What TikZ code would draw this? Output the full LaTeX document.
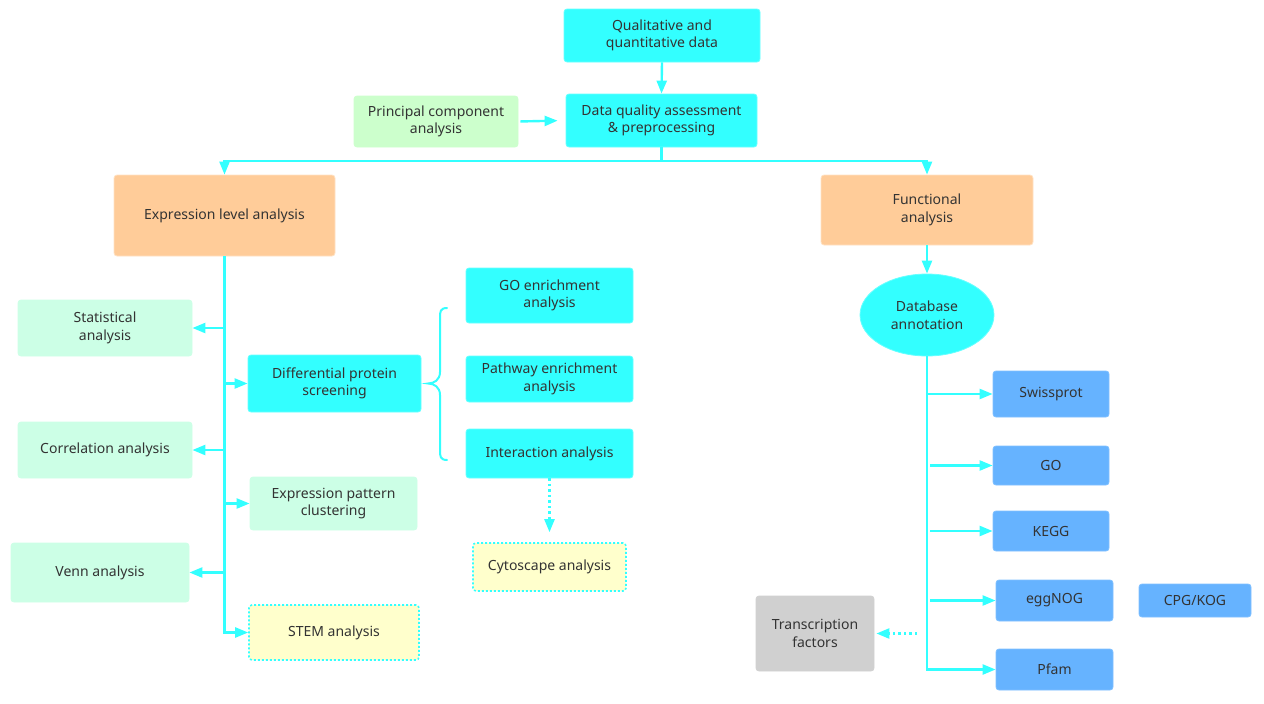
\documentclass[tikz,border=0pt]{standalone}
\usepackage{fontspec}
\setmainfont{Noto Sans}
\usetikzlibrary{arrows.meta,shapes.geometric}
\definecolor{cyanF}{HTML}{33FFFF}
\definecolor{cyanL}{HTML}{66FFFF}
\definecolor{lineC}{HTML}{33FFFF}
\definecolor{mintF}{HTML}{CCFFE6}
\definecolor{pcaF}{HTML}{CCFFCC}
\definecolor{orgF}{HTML}{FFCC99}
\definecolor{orgL}{HTML}{FFE2C4}
\definecolor{yelF}{HTML}{FFFFCC}
\definecolor{bluF}{HTML}{66B3FF}
\definecolor{bluL}{HTML}{80C0FF}
\definecolor{gryF}{HTML}{D0D0D0}
\definecolor{txt}{HTML}{333333}
\begin{document}
\begin{tikzpicture}[x=1pt,y=-1pt,
  font=\fontsize{14}{17.5}\selectfont, text=txt,
  box/.style={rounded corners=3pt, align=center, inner sep=0pt, line width=0.8pt},
  cybox/.style={box, fill=cyanF, draw=cyanL},
  mintbox/.style={box, fill=mintF, draw=mintF},
  pcabox/.style={box, fill=pcaF, draw=pcaF},
  orgbox/.style={box, fill=orgF, draw=orgL},
  yelbox/.style={box, fill=yelF, draw=lineC, dash pattern=on 2pt off 2pt, line width=1.6pt},
  blubox/.style={box, fill=bluF, draw=bluL},
  grybox/.style={box, fill=gryF, draw=gryF},
  conn/.style={draw=lineC, line width=2.4pt},
  arr/.style={conn, -{Triangle[length=13pt,width=10pt]}},
  darr/.style={arr, dash pattern=on 2.5pt off 3pt}]
\useasboundingbox (0,0) rectangle (1264,704);

% top
\node[cybox, minimum width=196pt, minimum height=53pt] (qual) at (662,35.5) {Qualitative and\\quantitative data};
\node[cybox, minimum width=191pt, minimum height=53pt] (dqa) at (661.5,120.5) {Data quality assessment\\\& preprocessing};
\node[pcabox, minimum width=164pt, minimum height=51pt] (pca) at (436,121.5) {Principal component\\analysis};

% level 2
\node[orgbox, minimum width=221pt, minimum height=81pt] (expr) at (224.5,215.5) {Expression level analysis};
\node[orgbox, minimum width=212pt, minimum height=70pt] (func) at (927,210) {Functional\\analysis};

% expression branch
\node[mintbox, minimum width=174pt, minimum height=56pt] (stat) at (105,328) {Statistical\\analysis};
\node[cybox, minimum width=173pt, minimum height=57pt] (diff) at (334.5,383.5) {Differential protein\\screening};
\node[mintbox, minimum width=174pt, minimum height=56pt] (corr) at (105,450) {Correlation analysis};
\node[mintbox, minimum width=167pt, minimum height=53pt] (clus) at (333.5,503.5) {Expression pattern\\clustering};
\node[mintbox, minimum width=178pt, minimum height=59pt] (venn) at (100,572.5) {Venn analysis};
\node[yelbox, minimum width=170pt, minimum height=55pt] (stem) at (334,632.5) {STEM analysis};

\node[cybox, minimum width=167pt, minimum height=55pt] (goe) at (549.5,295.5) {GO enrichment\\analysis};
\node[cybox, minimum width=167pt, minimum height=46pt] (path) at (549.5,379) {Pathway enrichment\\analysis};
\node[cybox, minimum width=167pt, minimum height=49pt] (inter) at (549.5,453.5) {Interaction analysis};
\node[yelbox, minimum width=153pt, minimum height=48pt] (cyto) at (549.5,567) {Cytoscape analysis};

% functional branch
\node[ellipse, fill=cyanF, draw=cyanL, line width=0.8pt, inner sep=0pt, minimum width=134pt, minimum height=82pt, align=center] (db) at (927,315) {Database\\annotation};
\node[blubox, minimum width=116pt, minimum height=46pt] (swiss) at (1051,394) {Swissprot};
\node[blubox, minimum width=116pt, minimum height=39pt] (gob) at (1051,465.5) {GO};
\node[blubox, minimum width=116pt, minimum height=40pt] (kegg) at (1051,531) {KEGG};
\node[blubox, minimum width=117pt, minimum height=41pt] (egg) at (1054.5,600.5) {eggNOG};
\node[blubox, minimum width=112pt, minimum height=33pt] (cpg) at (1195,600.5) {CPG/KOG};
\node[blubox, minimum width=117pt, minimum height=41pt] (pfam) at (1054.5,669.5) {Pfam};
\node[grybox, minimum width=118pt, minimum height=75pt] (tf) at (815,633.5) {Transcription\\factors};

% connectors top
\draw[arr] (qual.south) -- (dqa.north);
\draw[arr, shorten >=8pt, shorten <=2pt] (pca.east) -- (dqa.west);
\coordinate (split) at (661.5,161);
\draw[conn] (dqa.south) -- (split);
\draw[arr] (split) -| (expr.north);
\draw[arr] (split) -| (func.north);

% expression trunk
\draw[arr] (expr.south) |- (stem.west);
\draw[arr] (expr.south |- stat.east) -- (stat.east);
\draw[arr] (expr.south |- corr.east) -- (corr.east);
\draw[arr] (expr.south |- venn.east) -- (venn.east);
\draw[arr] (expr.south |- diff.west) -- (diff.west);
\draw[arr] (expr.south |- clus.west) -- (clus.west);

% brace
\coordinate (bt) at (428,383.5);
\draw[conn, line width=2pt, line cap=round]
  (447,308) .. controls (440,308) and (440,312) .. (440,318) -- (440,372)
  .. controls (440,380) and (434,383.5) .. (bt)
  .. controls (434,383.5) and (440,387) .. (440,395) -- (440,450)
  .. controls (440,456) and (440,460) .. (447,460);

\draw[darr, shorten >=10pt] (inter.south) -- (cyto.north);

% functional trunk
\draw[arr] (func.south) -- (db.north);
\draw[arr] (db.south) |- (pfam.west);
\draw[arr] (db.south |- swiss.west) -- (swiss.west);
\draw[arr] ([xshift=3pt]db.south |- gob.west) -- (gob.west);
\draw[arr] ([xshift=3pt]db.south |- kegg.west) -- (kegg.west);
\draw[arr] ([xshift=3pt]db.south |- egg.west) -- (egg.west);
\coordinate (tfs) at (917,633.5);
\draw[darr, shorten >=2pt] (tfs) -- (tf.east);
\end{tikzpicture}
\end{document}
